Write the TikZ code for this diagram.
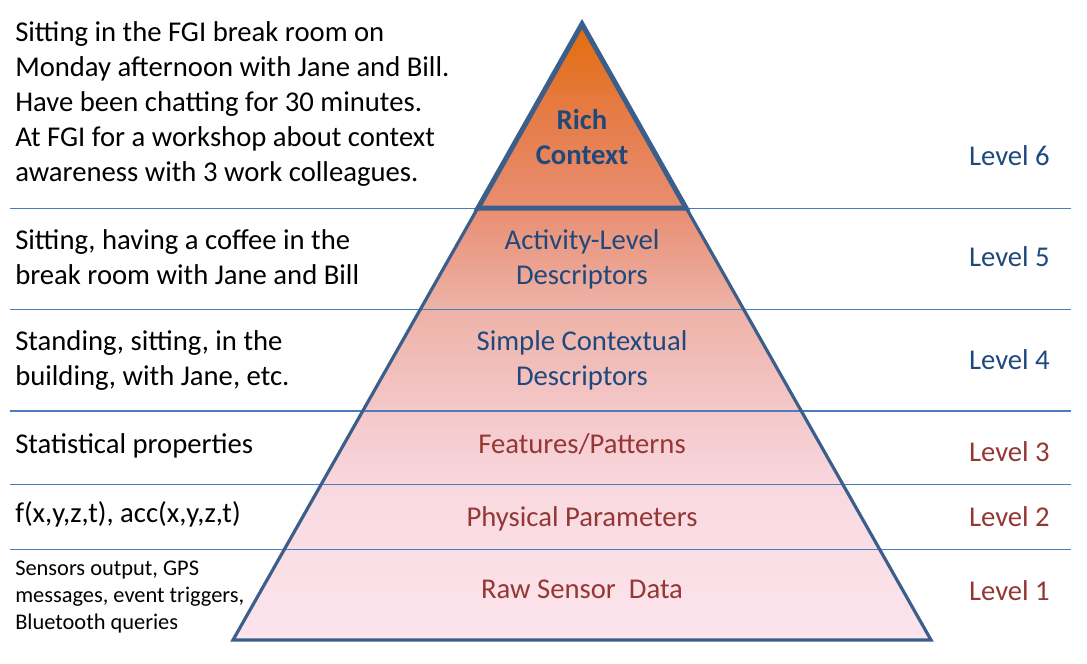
\documentclass[tikz,border=0pt]{standalone}
\usepackage{fontspec}
\setmainfont{Carlito}

\definecolor{pyrTop}{RGB}{228,108,10}
\definecolor{pyrA}{RGB}{230,124,72}
\definecolor{pyrB}{RGB}{232,142,114}
\definecolor{pyrC}{RGB}{237,176,164}
\definecolor{pyrD}{RGB}{244,200,202}
\definecolor{pyrE}{RGB}{249,218,225}
\definecolor{pyrF}{RGB}{252,228,236}
\definecolor{edgeBlue}{RGB}{59,95,138}
\definecolor{ruleBlue}{RGB}{74,126,187}
\definecolor{labelBlue}{RGB}{31,73,125}
\definecolor{labelRed}{RGB}{149,55,53}

% vertical fade of the pyramid: base (25bp) up to apex (75bp)
\pgfdeclareverticalshading{pyramidfade}{100bp}{%
  color(0bp)=(pyrF); color(25bp)=(pyrF); color(36.5bp)=(pyrE);
  color(43.5bp)=(pyrD); color(52.5bp)=(pyrC); color(60bp)=(pyrB);
  color(67.5bp)=(pyrA); color(75bp)=(pyrTop); color(100bp)=(pyrTop)}

\tikzset{
  desc/.style={inner sep=0pt, align=left, text=black,
    font=\fontsize{21.5}{26.25}\selectfont},
  descsmall/.style={inner sep=0pt, align=left, text=black,
    font=\fontsize{16.8}{20.25}\selectfont},
  tierblue/.style={inner sep=0pt, align=center, text=labelBlue,
    font=\fontsize{21.5}{26.25}\selectfont},
  tierred/.style={inner sep=0pt, align=center, text=labelRed,
    font=\fontsize{21.5}{26.25}\selectfont},
  levelblue/.style={inner sep=0pt, text=labelBlue,
    font=\fontsize{21.5}{26.25}\selectfont},
  levelred/.style={inner sep=0pt, text=labelRed,
    font=\fontsize{21.5}{26.25}\selectfont},
  separator/.style={draw=ruleBlue, line width=1pt},
  outline/.style={draw=edgeBlue, line width=2.4pt, line join=miter},
  topline/.style={draw=edgeBlue, line width=3.75pt, line join=miter},
}

\begin{document}
\begin{tikzpicture}[x=0.75pt, y=-0.75pt]
\useasboundingbox (0,0) rectangle (1087,663);

% pyramid corners
\coordinate (apex) at (582,24);
\coordinate (bl) at (233,640);
\coordinate (br) at (931,640);
\coordinate (tl) at (478,208);
\coordinate (tr) at (686,208);

% shaded body
\shade[shading=pyramidfade] (apex) -- (br) -- (bl) -- cycle;

% level separators
\foreach \yy in {208.3,309.3,411,484.3,549.3}
  \draw[separator] (10,\yy) -- (1071,\yy);

% outlines
\draw[outline] (apex) -- (br) -- (bl) -- cycle;
\draw[topline] (apex) -- (tr) -- (tl) -- cycle;

% left-hand descriptions (anchored at the baseline of their last line)
\node[desc, anchor=base west] (d6) at (15,181.7)
  {Sitting in the FGI break room on\\Monday afternoon with Jane and Bill.\\Have been chatting for 30 minutes.\\At FGI for a workshop about context\\awareness with 3 work colleagues.};
\node[desc, anchor=base west] (d5) at (15,284.3)
  {Sitting, having a coffee in the\\break room with Jane and Bill};
\node[desc, anchor=base west] (d4) at (15,385.7)
  {Standing, sitting, in the\\building, with Jane, etc.};
\node[desc, anchor=base west] (d3) at (15,453.3) {Statistical properties};
\node[desc, anchor=base west] (d2) at (15,522) {f(x,y,z,t), acc(x,y,z,t)};
\node[descsmall, anchor=base west] (d1) at (15,629.7)
  {Sensors output, GPS\\messages, event triggers,\\Bluetooth queries};

% tier names inside the pyramid
\node[tierblue, anchor=base, font=\fontsize{21.5}{25.5}\selectfont\bfseries] (t6) at (582,164)
  {Rich\\Context};
\node[tierblue, anchor=base] (t5) at (582,284.3) {Activity-Level\\Descriptors};
\node[tierblue, anchor=base] (t4) at (582,385.7) {Simple Contextual\\Descriptors};
\node[tierred, anchor=base] (t3) at (582,453.3) {Features/Patterns};
\node[tierred, anchor=base] (t2) at (582,526) {Physical Parameters};
\node[tierred, anchor=base] (t1) at (582,598.3) {Raw Sensor\ \ Data};

% level numbers
\node[levelblue, anchor=base east] (l6) at (1050,166) {Level 6};
\node[levelblue, anchor=base east] (l5) at (1050,266.7) {Level 5};
\node[levelblue, anchor=base east] (l4) at (1050,369.3) {Level 4};
\node[levelred, anchor=base east] (l3) at (1050,461.7) {Level 3};
\node[levelred, anchor=base east] (l2) at (1050,526) {Level 2};
\node[levelred, anchor=base east] (l1) at (1050,600) {Level 1};
\end{tikzpicture}
\end{document}
